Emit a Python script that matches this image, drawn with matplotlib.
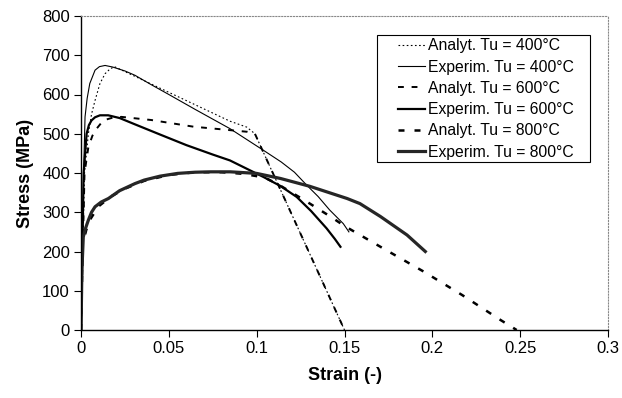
import matplotlib
matplotlib.use('Agg')
import matplotlib.pyplot as plt
from matplotlib.patches import Rectangle

plt.rcParams['font.family'] = ['Liberation Sans', 'DejaVu Sans']

# Strain / stress points
an400_x = [0, 0.002, 0.0042, 0.006, 0.008, 0.0108, 0.0137, 0.0165, 0.019, 0.0848, 0.0943, 0.099, 0.15]
an400_y = [0, 400, 500, 550, 585, 628, 653, 665, 671, 532, 517, 500, 0]

ex400_x = [0, 0.0015, 0.0023, 0.0035, 0.005, 0.008, 0.0105, 0.0137, 0.018, 0.025, 0.0307, 0.04, 0.05,
           0.065, 0.0848, 0.1038, 0.114, 0.1215, 0.1285, 0.135, 0.1415, 0.1493, 0.1525]
ex400_y = [0, 400, 543, 590, 628, 662, 671, 674, 670, 660, 649, 625, 600,
           562, 513, 458, 428, 402, 369, 340, 306, 271, 250]

an600_x = [0, 0.002, 0.0042, 0.0065, 0.0089, 0.0127, 0.018, 0.023, 0.04, 0.064, 0.0947, 0.099, 0.15]
an600_y = [0, 400, 466, 495, 513, 534, 541, 543, 535, 518, 505, 500, 0]

ex600_x = [0, 0.0015, 0.0032, 0.0045, 0.006, 0.008, 0.0108, 0.0155, 0.022, 0.0307, 0.045, 0.06,
           0.075, 0.0848, 0.1038, 0.1135, 0.1228, 0.131, 0.1398, 0.1445, 0.1477]
ex600_y = [0, 400, 500, 522, 534, 542, 547, 547, 540, 524, 498, 471,
           447, 432, 390, 367, 339, 303, 259, 232, 212]

an800_x = [0, 0.001, 0.003, 0.0057, 0.01, 0.017, 0.025, 0.036, 0.05, 0.065, 0.08, 0.092, 0.1,
           0.1057, 0.113, 0.1285, 0.1427, 0.15, 0.172, 0.195, 0.217, 0.239, 0.248]
an800_y = [0, 220, 255, 285, 315, 340, 360, 380, 395, 402, 402, 398, 392,
           386, 369, 327, 287, 265, 208, 149, 89, 25, 0]

ex800_x = [0, 0.0005, 0.0013, 0.0025, 0.0042, 0.006, 0.008, 0.0115, 0.0156, 0.022, 0.0307, 0.036,
           0.045, 0.055, 0.065, 0.074, 0.085, 0.1, 0.1136, 0.1303, 0.1515, 0.1588, 0.1705, 0.1856, 0.196]
ex800_y = [0, 150, 237, 258, 280, 300, 314, 326, 335, 355, 373, 382,
           392, 399, 402, 403, 403, 399, 386, 366, 335, 322, 289, 242, 200]

x_ticks = [0, 0.05, 0.1, 0.15, 0.2, 0.25, 0.3]
x_tick_labels = ['0', '0.05', '0.1', '0.15', '0.2', '0.25', '0.3']
y_ticks = [0, 100, 200, 300, 400, 500, 600, 700, 800]

fig = plt.figure(figsize=(6.22, 3.98), dpi=100)
ax = fig.add_axes([81 / 622, 68 / 398, 527 / 622, 314 / 398])

ax.plot(an400_x, an400_y, color='black', lw=0.8, linestyle=(0, (1.5, 2.2)),
        label='Analyt. Tu = 400°C')
ax.plot(ex400_x, ex400_y, color='black', lw=0.8, label='Experim. Tu = 400°C')
ax.plot(an600_x, an600_y, color='black', lw=1.4, linestyle=(0, (3.0, 4.0)),
        label='Analyt. Tu = 600°C')
ax.plot(ex600_x, ex600_y, color='black', lw=1.6, label='Experim. Tu = 600°C')
ax.plot(an800_x, an800_y, color='black', lw=1.8, linestyle=(0, (2.4, 4.0)),
        label='Analyt. Tu = 800°C')
ax.plot(ex800_x, ex800_y, color='#262626', lw=2.3, label='Experim. Tu = 800°C')

ax.set_xlim(0, 0.3)
ax.set_ylim(0, 800)
ax.set_xticks(x_ticks)
ax.set_xticklabels(x_tick_labels)
ax.set_yticks(y_ticks)
ax.tick_params(direction='out', length=5, width=0.8, labelsize=12, pad=3)

ax.set_xlabel('Strain (-)', fontsize=13, fontweight='bold', labelpad=8)
ax.set_ylabel('Stress (MPa)', fontsize=13, fontweight='bold', labelpad=6)

# Excel-like frame: solid axes, dotted gray top/right
for side in ['left', 'bottom']:
    ax.spines[side].set_color('black')
    ax.spines[side].set_linewidth(1.0)
for side in ['top', 'right']:
    ax.spines[side].set_color('#888888')
    ax.spines[side].set_linestyle(':')
    ax.spines[side].set_linewidth(0.8)

# legend box is wider than its contents, so draw the frame separately
ax.add_patch(Rectangle((0.5617, 0.535), 0.4041, 0.4045, transform=ax.transAxes,
                       facecolor='white', edgecolor='black', lw=0.8, zorder=4))
leg = ax.legend(loc='upper left', bbox_to_anchor=(0.6015, 0.929), fontsize=11.3,
                frameon=False, handlelength=1.72, handletextpad=0.2,
                labelspacing=0.4, borderpad=0, borderaxespad=0)
leg.set_zorder(5)

fig.savefig('out.png', dpi=100)
